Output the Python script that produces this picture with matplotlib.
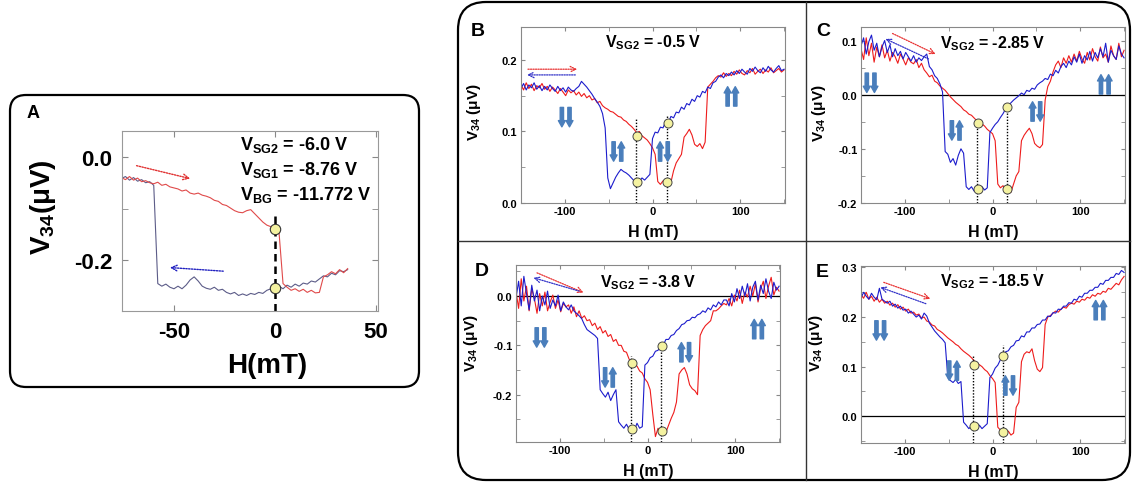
import numpy as np
import matplotlib
matplotlib.use('Agg')
import matplotlib.pyplot as plt
from matplotlib.patches import FancyBboxPatch
from matplotlib.ticker import MultipleLocator, FormatStrFormatter
from matplotlib.transforms import offset_copy

plt.rcParams['font.family'] = 'Liberation Sans'
plt.rcParams['font.weight'] = 'bold'
plt.rcParams['axes.labelweight'] = 'bold'
plt.rcParams['axes.unicode_minus'] = False
plt.rcParams['mathtext.fontset'] = 'custom'
plt.rcParams['mathtext.rm'] = 'Liberation Sans:bold'
plt.rcParams['mathtext.bf'] = 'Liberation Sans:bold'
plt.rcParams['mathtext.it'] = 'Liberation Sans:bold'
plt.rcParams['mathtext.default'] = 'rm'

# ---------------- panel A data (H in mT, V in uV) ----------------
H_A = np.arange(-76, 37, 2)
a_red = [-0.040, -0.044, -0.038, -0.045, -0.041, -0.048, -0.046, -0.050, -0.052, -0.049,
         -0.055, -0.053, -0.058, -0.060, -0.062, -0.066, -0.064, -0.070, -0.072, -0.070,
         -0.074, -0.076, -0.079, -0.084, -0.086, -0.092, -0.094, -0.099, -0.104, -0.107,
         -0.108, -0.104, -0.102, -0.110, -0.118, -0.126, -0.132, -0.135, -0.140, -0.145,
         -0.245, -0.252, -0.258, -0.255, -0.260, -0.256, -0.262, -0.258, -0.263, -0.262,
         -0.232, -0.228, -0.222, -0.226, -0.218, -0.224, -0.216]
a_blue = [-0.042, -0.038, -0.045, -0.040, -0.047, -0.044, -0.050, -0.048, -0.055, -0.245,
          -0.250, -0.246, -0.252, -0.255, -0.250, -0.255, -0.248, -0.238, -0.232, -0.240,
          -0.250, -0.254, -0.256, -0.252, -0.258, -0.256, -0.262, -0.265, -0.262, -0.268,
          -0.265, -0.268, -0.264, -0.266, -0.262, -0.264, -0.258, -0.255, -0.254, -0.250,
          -0.255, -0.248, -0.252, -0.246, -0.250, -0.244, -0.246, -0.240, -0.242, -0.236,
          -0.230, -0.232, -0.225, -0.228, -0.220, -0.222, -0.218]
a_circles_h = [0, 0]
a_circles_v = [-0.140, -0.253]

# ---------------- panels B-E data ----------------
H = np.arange(-150, 151, 3)

b_red = [0.165, 0.158, 0.168, 0.160, 0.166, 0.157, 0.164, 0.161, 0.167, 0.159,
         0.163, 0.156, 0.162, 0.158, 0.153, 0.160, 0.155, 0.150, 0.158, 0.154,
         0.157, 0.151, 0.155, 0.149, 0.153, 0.147, 0.150, 0.144, 0.146, 0.140,
         0.142, 0.136, 0.133, 0.131, 0.128, 0.127, 0.124, 0.121, 0.120, 0.116,
         0.114, 0.110, 0.107, 0.103, 0.098, 0.100, 0.094, 0.091, 0.088, 0.083,
         0.077, 0.068, 0.030, 0.026, 0.031, 0.028, 0.032, 0.029, 0.045, 0.056,
         0.062, 0.068, 0.092, 0.097, 0.103, 0.095, 0.082, 0.079, 0.083, 0.076,
         0.085, 0.162, 0.166, 0.170, 0.175, 0.178, 0.176, 0.182, 0.177, 0.181,
         0.178, 0.184, 0.180, 0.186, 0.181, 0.179, 0.185, 0.182, 0.188, 0.180,
         0.184, 0.187, 0.181, 0.186, 0.183, 0.189, 0.182, 0.185, 0.188, 0.183, 0.186]
b_blue = [0.160, 0.167, 0.158, 0.165, 0.161, 0.168, 0.159, 0.164, 0.157, 0.163,
          0.158, 0.165, 0.160, 0.156, 0.163, 0.157, 0.161, 0.155, 0.162, 0.158,
          0.156, 0.160, 0.163, 0.170, 0.166, 0.162, 0.157, 0.152, 0.146, 0.141,
          0.135, 0.125, 0.105, 0.035, 0.020, 0.028, 0.036, 0.042, 0.047, 0.044,
          0.042, 0.039, 0.035, 0.031, 0.033, 0.030, 0.035, 0.032, 0.036, 0.040,
          0.090, 0.099, 0.098, 0.106, 0.105, 0.114, 0.112, 0.121, 0.119, 0.127,
          0.126, 0.134, 0.131, 0.139, 0.137, 0.145, 0.142, 0.150, 0.148, 0.156,
          0.154, 0.162, 0.160, 0.168, 0.170, 0.176, 0.179, 0.175, 0.181, 0.178,
          0.183, 0.179, 0.185, 0.181, 0.187, 0.183, 0.180, 0.188, 0.184, 0.190,
          0.185, 0.182, 0.189, 0.184, 0.191, 0.186, 0.183, 0.188, 0.192, 0.185, 0.187]

c_red = [0.085, 0.065, 0.105, 0.072, 0.095, 0.060, 0.088, 0.070, 0.092, 0.068,
         0.082, 0.062, 0.078, 0.070, 0.058, 0.075, 0.066, 0.055, 0.068, 0.060,
         0.057, 0.065, 0.050, 0.058, 0.046, 0.040, 0.033, 0.036, 0.025, 0.022,
         0.016, 0.012, 0.008, 0.002, -0.004, -0.009, -0.014, -0.018, -0.022, -0.028,
         -0.031, -0.036, -0.038, -0.043, -0.048, -0.052, -0.054, -0.058, -0.064, -0.068,
         -0.072, -0.085, -0.165, -0.172, -0.168, -0.178, -0.173, -0.180, -0.165, -0.150,
         -0.142, -0.085, -0.075, -0.068, -0.062, -0.072, -0.090, -0.095, -0.098, -0.092,
         -0.010, 0.015, 0.025, 0.042, 0.055, 0.062, 0.050, 0.068, 0.058, 0.072,
         0.060, 0.075, 0.062, 0.080, 0.066, 0.058, 0.078, 0.064, 0.085, 0.070,
         0.062, 0.088, 0.068, 0.075, 0.060, 0.090, 0.072, 0.065, 0.095, 0.070, 0.082]
c_blue = [0.090, 0.105, 0.075, 0.098, 0.110, 0.082, 0.095, 0.070, 0.088, 0.100,
          0.078, 0.092, 0.070, 0.085, 0.072, 0.080, 0.066, 0.078, 0.070, 0.062,
          0.072, 0.060, 0.068, 0.063, 0.070, 0.075, 0.052, 0.046, 0.035, 0.030,
          0.020, 0.005, -0.105, -0.110, -0.125, -0.118, -0.130, -0.112, -0.100, -0.108,
          -0.170, -0.175, -0.170, -0.178, -0.172, -0.180, -0.170, -0.176, -0.172, -0.070,
          -0.062, -0.055, -0.050, -0.042, -0.035, -0.026, -0.020, -0.015, -0.010, -0.006,
          -0.002, 0.003, 0.000, 0.008, 0.006, 0.012, 0.010, 0.018, 0.022, 0.025,
          0.030, 0.028, 0.038, 0.035, 0.045, 0.040, 0.052, 0.058, 0.050, 0.062,
          0.055, 0.070, 0.060, 0.075, 0.058, 0.072, 0.064, 0.080, 0.062, 0.078,
          0.068, 0.085, 0.070, 0.095, 0.060, 0.082, 0.072, 0.065, 0.090, 0.075, 0.068]

d_red = [0.010, -0.025, 0.035, -0.010, 0.020, -0.030, 0.015, -0.005, -0.035, 0.005,
         -0.020, 0.008, -0.030, -0.012, 0.002, -0.025, -0.008, -0.032, -0.015, -0.022,
         -0.018, -0.035, -0.022, -0.042, -0.030, -0.045, -0.040, -0.050, -0.048, -0.060,
         -0.055, -0.068, -0.062, -0.075, -0.070, -0.082, -0.078, -0.092, -0.088, -0.100,
         -0.100, -0.112, -0.114, -0.128, -0.132, -0.140, -0.142, -0.152, -0.156, -0.168,
         -0.175, -0.190, -0.240, -0.285, -0.268, -0.280, -0.272, -0.276, -0.262, -0.248,
         -0.236, -0.215, -0.158, -0.150, -0.145, -0.158, -0.180, -0.188, -0.192, -0.200,
         -0.080, -0.068, -0.060, -0.055, -0.050, -0.030, -0.030, -0.026, -0.020, -0.015,
         -0.018, -0.005, -0.020, 0.002, -0.010, 0.012, -0.015, 0.008, -0.002, 0.020,
         0.000, 0.025, -0.012, 0.015, 0.030, -0.005, 0.020, 0.038, 0.002, 0.018, 0.010]
d_blue = [-0.005, 0.030, -0.020, 0.040, 0.005, -0.028, 0.022, -0.010, 0.012, -0.030,
          0.000, -0.018, 0.010, -0.025, -0.008, -0.020, 0.002, -0.030, -0.012, -0.022,
          -0.028, -0.018, -0.030, -0.035, -0.040, -0.046, -0.058, -0.068, -0.072, -0.076,
          -0.080, -0.086, -0.190, -0.198, -0.205, -0.195, -0.212, -0.200, -0.190, -0.255,
          -0.262, -0.268, -0.260, -0.270, -0.265, -0.272, -0.258, -0.268, -0.265, -0.140,
          -0.135, -0.125, -0.122, -0.112, -0.110, -0.100, -0.099, -0.088, -0.088, -0.080,
          -0.078, -0.070, -0.066, -0.058, -0.056, -0.050, -0.049, -0.043, -0.044, -0.038,
          -0.036, -0.030, -0.033, -0.024, -0.028, -0.018, -0.022, -0.012, -0.018, -0.008,
          -0.008, -0.020, 0.005, -0.012, 0.015, -0.005, 0.020, 0.000, 0.025, -0.010,
          0.018, 0.030, -0.008, 0.022, 0.005, 0.035, 0.010, -0.005, 0.028, 0.012, 0.020]

e_red = [0.245, 0.238, 0.250, 0.236, 0.242, 0.232, 0.240, 0.230, 0.236, 0.228,
         0.232, 0.224, 0.228, 0.220, 0.225, 0.216, 0.220, 0.212, 0.216, 0.208,
         0.210, 0.204, 0.206, 0.198, 0.200, 0.192, 0.190, 0.184, 0.182, 0.175,
         0.172, 0.168, 0.163, 0.158, 0.154, 0.150, 0.145, 0.142, 0.136, 0.131,
         0.127, 0.123, 0.118, 0.112, 0.106, 0.104, 0.100, 0.094, 0.090, 0.082,
         0.076, 0.068, -0.022, -0.028, -0.032, -0.035, -0.030, -0.038, -0.034, 0.018,
         0.028, 0.110, 0.125, 0.130, 0.128, 0.136, 0.112, 0.095, 0.090, 0.098,
         0.185, 0.200, 0.203, 0.208, 0.212, 0.210, 0.216, 0.220, 0.218, 0.225,
         0.228, 0.226, 0.232, 0.230, 0.236, 0.234, 0.240, 0.238, 0.245, 0.242,
         0.248, 0.246, 0.252, 0.250, 0.258, 0.256, 0.262, 0.268, 0.265, 0.275, 0.282]
e_blue = [0.238, 0.250, 0.242, 0.236, 0.248, 0.240, 0.235, 0.258, 0.236, 0.232,
          0.228, 0.232, 0.222, 0.226, 0.218, 0.222, 0.214, 0.216, 0.208, 0.212,
          0.206, 0.200, 0.204, 0.196, 0.208, 0.202, 0.188, 0.180, 0.172, 0.166,
          0.160, 0.155, 0.148, 0.078, 0.072, 0.068, 0.074, 0.066, 0.070, -0.012,
          -0.018, -0.025, -0.020, -0.022, -0.028, -0.018, -0.025, -0.020, -0.015, 0.078,
          0.085, 0.097, 0.103, 0.114, 0.120, 0.130, 0.132, 0.140, 0.143, 0.152,
          0.153, 0.162, 0.160, 0.170, 0.170, 0.178, 0.178, 0.185, 0.186, 0.194,
          0.194, 0.202, 0.201, 0.209, 0.208, 0.216, 0.215, 0.222, 0.222, 0.229,
          0.228, 0.236, 0.234, 0.242, 0.240, 0.248, 0.248, 0.254, 0.254, 0.260,
          0.260, 0.268, 0.266, 0.274, 0.274, 0.280, 0.280, 0.288, 0.286, 0.294, 0.290]

gate_labels = ['-0.5', '-2.85', '-3.8', '-18.5']

# circle markers (H, V) and dotted guide lines (H, top V) for each panel
b_circ = [(-18, 0.093), (-18, 0.029), (18, 0.112), (17, 0.029)]
c_circ = [(-16, -0.052), (-17, -0.175), (17, -0.022), (17, -0.175)]
d_circ = [(-18, -0.136), (-18, -0.269), (16, -0.102), (16, -0.274)]
e_circ = [(-21, 0.104), (-21, -0.020), (12, 0.121), (12, -0.031)]
b_guides = [(-19, 0.118), (17, 0.121)]
c_guides = [(-18, -0.047), (16, -0.019)]
d_guides = [(-19, -0.121), (15, -0.101)]
e_guides = [(-22, 0.123), (12, 0.143)]

# sweep-direction arrows: (start, end)
b_sweep = [((-142, 0.187), (-86, 0.187)), ((-88, 0.179), (-143, 0.179))]
c_sweep = [((-114, 0.113), (-65, 0.075)), ((-73, 0.066), (-122, 0.103))]
d_sweep = [((-126, 0.047), (-73, 0.007)), ((-78, 0.010), (-130, 0.037))]
e_sweep = [((-124, 0.270), (-71, 0.237)), ((-76, 0.227), (-128, 0.260))]

# spin configuration symbols: (H, V, [left arrow dir, right arrow dir])
b_spins = [(-99, 0.120, [-1, -1]), (-40, 0.072, [-1, 1]), (13, 0.072, [1, -1]), (90, 0.149, [1, 1])]
c_spins = [(-139, 0.022, [-1, -1]), (-42, -0.066, [-1, 1]), (50, -0.031, [1, -1]), (128, 0.019, [1, 1])]
d_spins = [(-122, -0.084, [-1, -1]), (-44, -0.165, [-1, 1]), (43, -0.114, [1, -1]), (126, -0.067, [1, 1])]
e_spins = [(-128, 0.173, [-1, -1]), (-45, 0.092, [-1, 1]), (19, 0.062, [1, -1]), (122, 0.214, [1, 1])]

RED = '#ee1c1c'
BLUE = '#1c1ccc'
SPIN = '#4a7ebb'
CIRC = '#f4f2a0'

fig = plt.figure(figsize=(11.33, 4.85), dpi=100)

# frames drawn in pixel coordinates
bg = fig.add_axes([0, 0, 1, 1])
bg.set_xlim(0, 1133)
bg.set_ylim(485, 0)
bg.axis('off')
bg.add_patch(FancyBboxPatch((10, 96), 409, 292, boxstyle='round,pad=0,rounding_size=16',
                            fc='none', ec='black', lw=1.6))
bg.add_patch(FancyBboxPatch((458, 3), 672, 478, boxstyle='round,pad=0,rounding_size=28',
                            fc='none', ec='black', lw=1.6))
bg.plot([806, 806], [3, 481], color='#333333', lw=1)
bg.plot([458, 1130], [241.5, 241.5], color='#333333', lw=1)
bg.text(33, 113, 'A', fontsize=13, fontweight='bold', ha='center', va='center')
for lab, x, y in [('B', 478, 31), ('C', 823, 31), ('D', 482, 272), ('E', 822, 273)]:
    bg.text(x, y, lab, fontsize=14, fontweight='bold', ha='center', va='center')


def spin(ax, h, v, dirs):
    for k, d in enumerate(dirs):
        dx = (k - 0.5) * 5.5
        tail = offset_copy(ax.transData, fig=fig, x=dx, y=-7 * d, units='points')
        head = offset_copy(ax.transData, fig=fig, x=dx, y=7 * d, units='points')
        ax.annotate('', xy=(h, v), xycoords=head, xytext=(h, v), textcoords=tail,
                    arrowprops=dict(arrowstyle='simple,head_length=0.45,head_width=0.5,tail_width=0.24',
                                    color=SPIN, shrinkA=0, shrinkB=0))


def sweep(ax, start, end, color, lw=1.0):
    ax.annotate('', xy=end, xytext=start,
                arrowprops=dict(arrowstyle='->', color=color, lw=lw, linestyle=(0, (1, 1)),
                                shrinkA=0, shrinkB=0))


# ---------------- panel A ----------------
axA = fig.add_axes([0.1077, 0.3567, 0.2259, 0.3711])
axA.plot(H_A, a_blue, color='#5c5c88', lw=0.8)
axA.plot(H_A, a_red, color='#e04a4a', lw=0.8)
axA.plot([0, 0], [-0.114, -0.3], color='black', lw=1.8, ls=(0, (3, 2)))
axA.plot(a_circles_h, a_circles_v, 'o', ms=7.5, mfc=CIRC, mec='#333333', mew=0.8)
sweep(axA, (-68.5, -0.017), (-42, -0.042), '#e03030')
sweep(axA, (-25.6, -0.221), (-52, -0.214), '#2020c0')
axA.set_xlim(-75.7, 51)
axA.set_ylim(-0.298, 0.05)
axA.xaxis.set_major_locator(MultipleLocator(50))
axA.yaxis.set_major_locator(MultipleLocator(0.2))
axA.yaxis.set_minor_locator(MultipleLocator(0.1))
axA.yaxis.set_major_formatter(FormatStrFormatter('%.1f'))
axA.tick_params(which='both', direction='in', top=True, right=True, length=4,
                color='#888888', labelsize=16, pad=7)
for t in axA.get_xticklabels() + axA.get_yticklabels():
    t.set_fontweight('bold')
for s in axA.spines.values():
    s.set_color('#999999')
axA.set_xlabel('H(mT)', fontsize=20, fontweight='bold')
axA.xaxis.set_label_coords(0.566, -0.23)
axA.set_ylabel('V$_{34}$(μV)', fontsize=20, fontweight='bold')
axA.yaxis.set_label_coords(-0.25, 0.58)
for txt, yf in [('V$_{SG2}$ = -6.0 V', 0.928), ('V$_{SG1}$ = -8.76 V', 0.79),
                ('V$_{BG}$ = -11.772 V', 0.65)]:
    axA.text(0.46, yf, txt, transform=axA.transAxes, fontsize=13, fontweight='bold',
             ha='left', va='center')

# ---------------- panels B-E ----------------
panels = [
    ([0.4598, 0.5794, 0.233, 0.3629], b_red, b_blue, (0.0, 0.246), b_circ, b_guides, b_sweep,
     b_spins, False, 0.915, (-0.144, 0.52)),
    ([0.7599, 0.5794, 0.233, 0.3629], c_red, c_blue, (-0.2, 0.125), c_circ, c_guides, c_sweep,
     c_spins, True, 0.91, (-0.125, 0.517)),
    ([0.4554, 0.0866, 0.233, 0.365], d_red, d_blue, (-0.296, 0.063), d_circ, d_guides, d_sweep,
     d_spins, True, 0.904, (-0.136, 0.565)),
    ([0.7599, 0.0845, 0.233, 0.365], e_red, e_blue, (-0.054, 0.303), e_circ, e_guides, e_sweep,
     e_spins, True, 0.917, (-0.136, 0.57)),
]

for (rect, red, blue, ylim, circ, guides, sw, spins, zero, tyf, ylc), gate in zip(panels, gate_labels):
    ax = fig.add_axes(rect)
    if zero:
        ax.axhline(0, color='black', lw=0.9)
    ax.plot(H, red, color=RED, lw=0.8)
    ax.plot(H, blue, color=BLUE, lw=0.8)
    for h, top in guides:
        ax.plot([h, h], [ylim[0], top], color='black', lw=1.0, ls=(0, (1, 1.2)))
    ax.plot([c[0] for c in circ], [c[1] for c in circ], 'o', ms=6.5, mfc=CIRC,
            mec='#444444', mew=0.7, zorder=5)
    sweep(ax, sw[0][0], sw[0][1], '#e83030', 0.9)
    sweep(ax, sw[1][0], sw[1][1], '#3030c8', 0.9)
    for h, v, dirs in spins:
        spin(ax, h, v, dirs)
    ax.set_xlim(-150, 151)
    ax.set_ylim(*ylim)
    ax.xaxis.set_major_locator(MultipleLocator(100))
    ax.xaxis.set_minor_locator(MultipleLocator(50))
    ax.yaxis.set_major_locator(MultipleLocator(0.1))
    ax.yaxis.set_minor_locator(MultipleLocator(0.05))
    ax.yaxis.set_major_formatter(FormatStrFormatter('%.1f'))
    ax.tick_params(which='both', direction='in', top=True, right=True, length=3,
                   color='#888888', labelsize=8, pad=2.5)
    for t in ax.get_xticklabels() + ax.get_yticklabels():
        t.set_fontweight('bold')
    for s in ax.spines.values():
        s.set_color('#888888')
    ax.set_xlabel('H (mT)', fontsize=11.5, fontweight='bold')
    ax.xaxis.set_label_coords(0.5, -0.12)
    ax.set_ylabel('V$_{34}$ (μV)', fontsize=11, fontweight='bold')
    ax.yaxis.set_label_coords(*ylc)
    ax.text(0.5, tyf, 'V$_{SG2}$ = ' + gate + ' V', transform=ax.transAxes,
            fontsize=11.5, fontweight='bold', ha='center', va='center')

fig.savefig('out.png', dpi=100)
